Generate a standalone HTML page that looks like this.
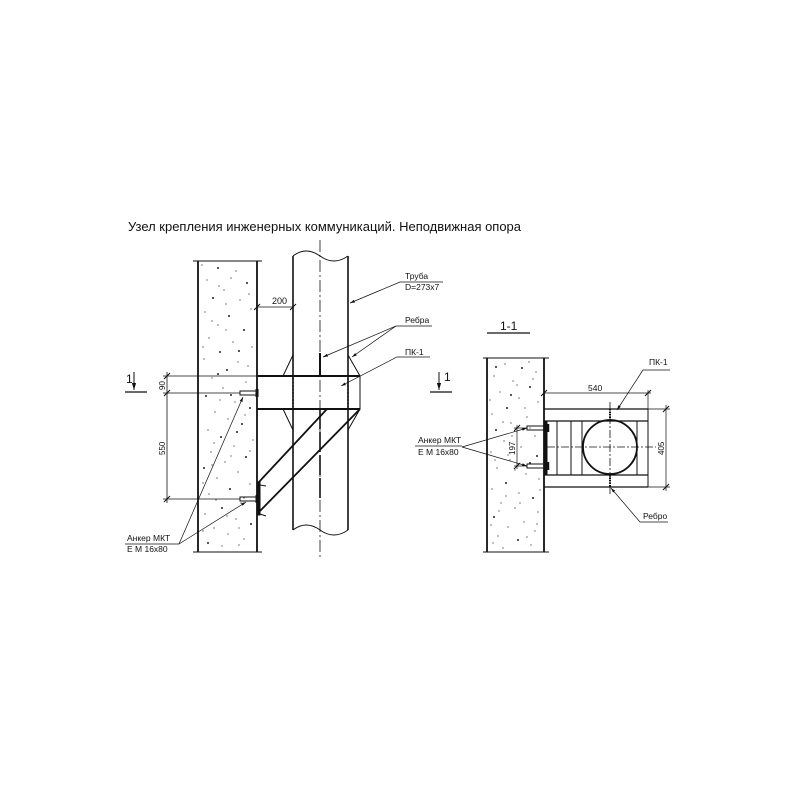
<!DOCTYPE html>
<html><head><meta charset="utf-8"><style>
html,body{margin:0;padding:0;background:#fff}
svg{display:block}
text{font-family:"Liberation Sans",sans-serif;fill:#111}
</style></head><body>
<svg width="809" height="809" viewBox="0 0 809 809" xmlns="http://www.w3.org/2000/svg">
<defs>
<marker id="ar" viewBox="0 0 10 10" refX="10" refY="5" markerWidth="7" markerHeight="7" orient="auto-start-reverse"><path d="M0,2 L10,5 L0,8 z" fill="#111"/></marker>
</defs>
<text x="128" y="231" font-size="13" textLength="393" lengthAdjust="spacingAndGlyphs">Узел крепления инженерных коммуникаций. Неподвижная опора</text>

<g stroke="#111" fill="none" stroke-width="1">
<line x1="198" y1="261" x2="198" y2="552" stroke-width="1.8"/>
<line x1="257" y1="261" x2="257" y2="552" stroke-width="1.8"/>
<line x1="193" y1="261" x2="262" y2="261"/>
<line x1="193" y1="552" x2="262" y2="552"/>
<line x1="293" y1="256" x2="293" y2="530" stroke-width="1.6"/>
<line x1="348" y1="256" x2="348" y2="530" stroke-width="1.6"/>
<path d="M293,256 Q306,246 320,256 Q334,266 348,256"/>
<path d="M293,530 Q306,520 320,530 Q334,540 348,530"/>
<line x1="320" y1="240" x2="320" y2="560" stroke-dasharray="12,3,2,3" stroke-width="0.8"/>
<line x1="257" y1="376" x2="360" y2="376" stroke-width="2"/>
<line x1="257" y1="409" x2="360" y2="409" stroke-width="2"/>
<line x1="360" y1="376" x2="360" y2="409"/>
<line x1="293" y1="378" x2="293" y2="407" stroke-dasharray="2,1.5" stroke-width="1.4"/>
<line x1="348" y1="378" x2="348" y2="407" stroke-dasharray="2,1.5" stroke-width="1.4"/>
<path d="M293,355 L283,376 M348,355 L360,376 M293,430 L283,409 M348,430 L360,409"/>
<line x1="320" y1="353" x2="320" y2="376" stroke-width="2"/>
<line x1="320" y1="409" x2="320" y2="500" stroke-width="1.6" stroke-dasharray="20,3"/>
<line x1="327" y1="409" x2="258" y2="483" stroke-width="1.8"/>
<line x1="360" y1="409" x2="258" y2="513" stroke-width="1.8"/>
<rect x="257" y="482" width="3" height="33" fill="#111"/>
<path d="M260,485 l6,1 M260,514 l6,2"/>
<rect x="240" y="391" width="17" height="4"/>
<rect x="240" y="497" width="17" height="4"/>
<line x1="257" y1="389" x2="257" y2="397" stroke-width="3"/>
<line x1="257" y1="495" x2="257" y2="503" stroke-width="3"/>
<line x1="167" y1="372" x2="167" y2="503" stroke-width="0.8"/>
<path d="M163,376 H257 M163,393 H240 M163,499 H240" stroke-width="0.7"/>
<path d="M164,379 l6,-6 M164,396 l6,-6 M164,502 l6,-6" stroke-width="1"/>
<line x1="257" y1="307" x2="293" y2="307" stroke-width="0.7"/>
<path d="M254,310 l6,-6 M290,310 l6,-6"/>
<line x1="125" y1="392" x2="147" y2="392" stroke-width="1.3"/>
<line x1="134" y1="372" x2="134" y2="390" marker-end="url(#ar)"/>
<line x1="430" y1="392" x2="452" y2="392" stroke-width="1.3"/>
<line x1="439" y1="372" x2="439" y2="390" marker-end="url(#ar)"/>
<path d="M443,282 H400 L350,303" marker-end="url(#ar)" stroke-width="0.7"/>
<path d="M432,326 H396 L323,357" marker-end="url(#ar)" stroke-width="0.7"/>
<path d="M396,326 L352,357" marker-end="url(#ar)" stroke-width="0.7"/>
<path d="M430,357 H397 L341,386" marker-end="url(#ar)" stroke-width="0.7"/>
<path d="M125,544 H179 L243,397" marker-end="url(#ar)" stroke-width="0.7"/>
<path d="M179,544 L246,502" marker-end="url(#ar)" stroke-width="0.7"/>

<line x1="487" y1="333" x2="530" y2="333" stroke-width="1.3"/>
<line x1="487" y1="358" x2="487" y2="552" stroke-width="1.8"/>
<line x1="544" y1="358" x2="544" y2="552" stroke-width="1.8"/>
<line x1="483" y1="358" x2="549" y2="358"/>
<line x1="483" y1="552" x2="549" y2="552"/>
<path d="M544,409 H648 M544,421 H648 M544,475 H648 M544,487 H648" stroke-width="1.3"/>
<path d="M557,421 V475 M571,421 V475 M582,421 V475 M637,421 V475 M648,409 V487"/>
<circle cx="610" cy="447" r="27" stroke-width="1.8"/>
<line x1="610" y1="402" x2="610" y2="494" stroke-dasharray="8,2,2,2" stroke-width="0.8"/>
<line x1="547" y1="447" x2="656" y2="447" stroke-dasharray="8,2,2,2" stroke-width="0.8"/>
<path d="M610,409 V421 M610,475 V487" stroke-width="2" stroke-dasharray="1.5,1"/>
<rect x="544" y="422" width="3" height="53" fill="#111"/>
<rect x="527" y="426" width="17" height="4"/>
<rect x="527" y="464" width="17" height="4"/>
<path d="M548,424 V432 M548,462 V470" stroke-width="2.5"/>
<path d="M544,393 H651 M648,390 V409" stroke-width="0.7"/>
<path d="M541,396 l6,-6 M645,396 l6,-6"/>
<path d="M648,409 H670 M648,487 H670 M666,405 V491" stroke-width="0.7"/>
<path d="M663,412 l6,-6 M663,490 l6,-6"/>
<path d="M514,428 H527 M514,466 H527 M517,425 V469" stroke-width="0.7"/>
<path d="M514,431 l6,-6 M514,469 l6,-6"/>
<path d="M670,370 H643 L617,410" marker-end="url(#ar)" stroke-width="0.7"/>
<path d="M668,522 H640 L611,488" marker-end="url(#ar)" stroke-width="0.7"/>
<path d="M462,447 L527,428" marker-end="url(#ar)" stroke-width="0.7"/>
<path d="M462,447 L527,466" marker-end="url(#ar)" stroke-width="0.7"/>
<line x1="415" y1="446" x2="462" y2="446" stroke-width="0.7"/>
</g>

<g fill="#222">
<circle cx="218" cy="268" r="1"/><circle cx="236" cy="271" r=".6"/><circle cx="207" cy="280" r=".6"/><circle cx="247" cy="283" r="1"/><circle cx="224" cy="290" r=".6"/><circle cx="213" cy="298" r="1"/><circle cx="240" cy="300" r=".6"/><circle cx="251" cy="309" r=".6"/><circle cx="205" cy="312" r=".6"/><circle cx="229" cy="316" r="1"/><circle cx="218" cy="325" r=".6"/><circle cx="244" cy="330" r="1"/><circle cx="209" cy="338" r=".6"/><circle cx="233" cy="342" r=".6"/><circle cx="252" cy="347" r=".6"/><circle cx="220" cy="352" r="1"/><circle cx="204" cy="359" r=".6"/><circle cx="238" cy="362" r=".6"/><circle cx="227" cy="370" r="1"/><circle cx="212" cy="378" r=".6"/><circle cx="246" cy="382" r=".6"/><circle cx="223" cy="388" r=".6"/><circle cx="206" cy="396" r="1"/><circle cx="235" cy="402" r=".6"/><circle cx="250" cy="408" r="1"/><circle cx="215" cy="412" r=".6"/><circle cx="228" cy="419" r=".6"/><circle cx="242" cy="424" r="1"/><circle cx="208" cy="430" r=".6"/><circle cx="221" cy="437" r="1"/><circle cx="253" cy="440" r=".6"/><circle cx="234" cy="446" r=".6"/><circle cx="211" cy="452" r=".6"/><circle cx="246" cy="457" r="1"/><circle cx="225" cy="462" r=".6"/><circle cx="204" cy="468" r="1"/><circle cx="238" cy="472" r=".6"/><circle cx="217" cy="478" r=".6"/><circle cx="250" cy="484" r=".6"/><circle cx="230" cy="489" r="1"/><circle cx="209" cy="494" r=".6"/><circle cx="241" cy="503" r=".6"/><circle cx="222" cy="508" r="1"/><circle cx="205" cy="514" r=".6"/><circle cx="236" cy="519" r=".6"/><circle cx="251" cy="524" r="1"/><circle cx="214" cy="528" r=".6"/><circle cx="228" cy="534" r=".6"/><circle cx="244" cy="539" r=".6"/><circle cx="208" cy="543" r="1"/><circle cx="222" cy="546" r=".6"/><circle cx="231" cy="278" r=".6"/><circle cx="212" cy="321" r=".6"/><circle cx="248" cy="366" r=".6"/><circle cx="231" cy="395" r="1"/><circle cx="214" cy="443" r=".6"/><circle cx="244" cy="498" r=".6"/><circle cx="216" cy="500" r=".6"/><circle cx="239" cy="528" r=".6"/><circle cx="226" cy="304" r=".6"/><circle cx="203" cy="347" r=".6"/><circle cx="239" cy="351" r="1"/><circle cx="220" cy="400" r=".6"/><circle cx="231" cy="456" r=".6"/><circle cx="203" cy="483" r=".6"/><circle cx="249" cy="294" r=".6"/><circle cx="202" cy="265" r=".6"/><circle cx="219" cy="286" r=".6"/><circle cx="226" cy="330" r=".6"/><circle cx="245" cy="415" r=".6"/><circle cx="237" cy="432" r="1"/><circle cx="212" cy="465" r=".6"/><circle cx="227" cy="516" r=".6"/><circle cx="203" cy="531" r=".6"/><circle cx="239" cy="545" r=".6"/><circle cx="250" cy="451" r=".6"/><circle cx="218" cy="374" r="1"/>

<circle cx="505" cy="364" r=".6"/><circle cx="522" cy="368" r="1"/><circle cx="536" cy="372" r=".6"/><circle cx="494" cy="376" r=".6"/><circle cx="513" cy="381" r=".6"/><circle cx="530" cy="387" r="1"/><circle cx="500" cy="392" r=".6"/><circle cx="519" cy="398" r=".6"/><circle cx="538" cy="402" r=".6"/><circle cx="507" cy="408" r="1"/><circle cx="492" cy="414" r=".6"/><circle cx="527" cy="417" r=".6"/><circle cx="511" cy="423" r=".6"/><circle cx="496" cy="430" r="1"/><circle cx="535" cy="436" r=".6"/><circle cx="504" cy="441" r=".6"/><circle cx="521" cy="447" r=".6"/><circle cx="491" cy="452" r=".6"/><circle cx="537" cy="456" r="1"/><circle cx="510" cy="460" r=".6"/><circle cx="497" cy="468" r=".6"/><circle cx="526" cy="474" r=".6"/><circle cx="539" cy="479" r=".6"/><circle cx="506" cy="483" r="1"/><circle cx="492" cy="489" r=".6"/><circle cx="519" cy="493" r=".6"/><circle cx="533" cy="498" r="1"/><circle cx="501" cy="503" r=".6"/><circle cx="515" cy="508" r=".6"/><circle cx="538" cy="512" r=".6"/><circle cx="494" cy="517" r="1"/><circle cx="524" cy="522" r=".6"/><circle cx="508" cy="527" r=".6"/><circle cx="535" cy="531" r=".6"/><circle cx="498" cy="536" r=".6"/><circle cx="518" cy="540" r="1"/><circle cx="531" cy="545" r=".6"/><circle cx="503" cy="548" r=".6"/><circle cx="529" cy="362" r=".6"/><circle cx="511" cy="395" r="1"/><circle cx="530" cy="428" r=".6"/><circle cx="515" cy="470" r=".6"/><circle cx="499" cy="511" r=".6"/><circle cx="527" cy="537" r=".6"/><circle cx="490" cy="400" r=".6"/><circle cx="540" cy="490" r=".6"/><circle cx="512" cy="436" r=".6"/><circle cx="495" cy="460" r=".6"/><circle cx="533" cy="379" r=".6"/><circle cx="520" cy="503" r=".6"/><circle cx="496" cy="367" r="1"/><circle cx="508" cy="455" r=".6"/><circle cx="525" cy="408" r=".6"/><circle cx="491" cy="525" r=".6"/><circle cx="537" cy="524" r=".6"/><circle cx="503" cy="422" r=".6"/><circle cx="517" cy="385" r=".6"/><circle cx="530" cy="463" r="1"/><circle cx="506" cy="496" r=".6"/><circle cx="493" cy="543" r=".6"/>
</g>

<g font-size="8.5">
<text x="272" y="304" font-size="9">200</text>
<text x="405" y="279">Труба</text>
<text x="405" y="290">D=273x7</text>
<text x="405" y="323">Ребра</text>
<text x="405" y="355">ПК-1</text>
<text x="127" y="541">Анкер МКТ</text>
<text x="127" y="552">E M 16x80</text>
<text x="126" y="383" font-size="12">1</text>
<text x="444" y="381" font-size="12">1</text>
<text transform="translate(165,390) rotate(-90)" font-size="8">90</text>
<text transform="translate(165,455) rotate(-90)" font-size="8">550</text>
<text x="500" y="330" font-size="12">1-1</text>
<text x="588" y="391">540</text>
<text x="649" y="365">ПК-1</text>
<text x="643" y="519">Ребро</text>
<text x="418" y="443">Анкер МКТ</text>
<text x="418" y="455">E M 16x80</text>
<text transform="translate(664,455) rotate(-90)" font-size="8">405</text>
<text transform="translate(515,455) rotate(-90)" font-size="8">197</text>
</g>
</svg>
</body></html>
